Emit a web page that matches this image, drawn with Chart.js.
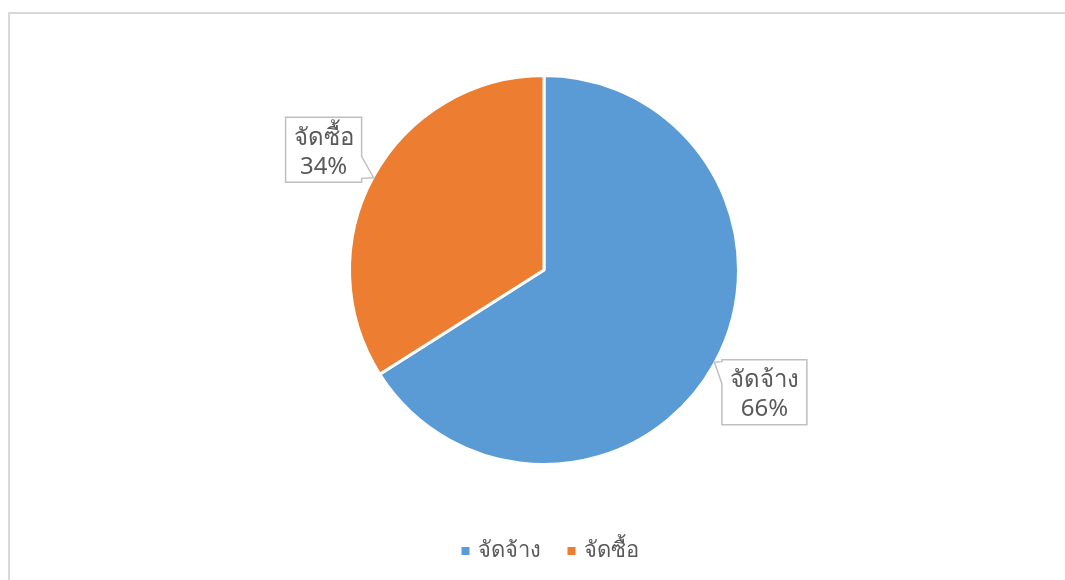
<!DOCTYPE html>
<html>
<head>
<meta charset="utf-8">
<script src="https://cdn.jsdelivr.net/npm/chart.js@4.4.1/dist/chart.umd.min.js"></script>
<style>
  html, body { margin: 0; padding: 0; background: #fff; }
  body { width: 1065px; height: 580px; position: relative; overflow: hidden; }
  #frame { position: absolute; left: 8px; top: 12px; width: 1200px; height: 700px;
           border-left: 2px solid #d9d9d9; border-top: 2px solid #d9d9d9; box-sizing: border-box; }
  #wrap { position: absolute; left: 0; top: 0; width: 1065px; height: 580px; }
</style>
</head>
<body>
<div id="frame"></div>
<div id="wrap"><canvas id="c" width="1065" height="580"></canvas></div>
<script>
const categories = ['จัดจ้าง', 'จัดซื้อ'];
const seriesValues = [66, 34];
const sliceColors = ['#5B9BD5', '#ED7D31'];

const FONT = '"Noto Sans", "DejaVu Sans", sans-serif';
const TEXT_COLOR = '#595959';
const FONT_SIZE = 24;
const LEGEND_FONT_SIZE = 22;

const calloutPlugin = {
  id: 'callouts',
  afterDatasetsDraw(chart) {
    const ctx = chart.ctx;
    const meta = chart.getDatasetMeta(0);
    const data = chart.data.datasets[0].data;
    const total = data.reduce((a, b) => a + b, 0);
    ctx.save();
    ctx.font = FONT_SIZE + 'px ' + FONT;
    meta.data.forEach((arc, i) => {
      const p = arc.getProps(['x', 'y', 'startAngle', 'endAngle', 'outerRadius'], true);
      const mid = (p.startAngle + p.endAngle) / 2;
      const tipX = p.x + Math.cos(mid) * p.outerRadius;
      const tipY = p.y + Math.sin(mid) * (p.outerRadius - 3);
      const dist = p.outerRadius + 57;
      const cx = p.x + Math.cos(mid) * dist;
      const cy = p.y + Math.sin(mid) * dist + 1;
      const line1 = chart.data.labels[i];
      const line2 = Math.round(data[i] / total * 100) + '%';
      const w = Math.max(ctx.measureText(line1).width, ctx.measureText(line2).width) + 16;
      const h = 65;
      const left = cx - w / 2, right = cx + w / 2, top = cy - h / 2, bottom = cy + h / 2;
      let y1 = Math.min(Math.max(tipY - 21, top + 2), bottom - 26);
      let y2 = y1 + 22;
      ctx.beginPath();
      ctx.moveTo(left, top);
      ctx.lineTo(right, top);
      if (tipX > right) {
        ctx.lineTo(right, y1);
        ctx.lineTo(tipX, tipY);
        ctx.lineTo(right, y2);
      }
      ctx.lineTo(right, bottom);
      ctx.lineTo(left, bottom);
      if (tipX < left) {
        ctx.lineTo(left, y2);
        ctx.lineTo(tipX, tipY);
        ctx.lineTo(left, y1);
      }
      ctx.closePath();
      ctx.fillStyle = '#ffffff';
      ctx.fill();
      ctx.strokeStyle = '#bfbfbf';
      ctx.lineWidth = 1.5;
      ctx.stroke();
      ctx.fillStyle = TEXT_COLOR;
      ctx.textAlign = 'center';
      ctx.textBaseline = 'middle';
      ctx.fillText(line1, cx, cy - 12);
      ctx.fillText(line2, cx, cy + 17);
    });
    ctx.restore();
  }
};

const legendPlugin = {
  id: 'bottomLegend',
  afterDraw(chart) {
    const ctx = chart.ctx;
    const colors = chart.data.datasets[0].backgroundColor;
    ctx.save();
    ctx.font = LEGEND_FONT_SIZE + 'px ' + FONT;
    ctx.textBaseline = 'middle';
    ctx.textAlign = 'left';
    const box = 8, gapBox = 8, gapItem = 27;
    const widths = chart.data.labels.map(l => ctx.measureText(l).width);
    const totalW = widths.reduce((a, w) => a + box + gapBox + w, 0) + gapItem * (widths.length - 1);
    const centerX = (chart.chartArea.left + chart.chartArea.right) / 2 + 6;
    let x = centerX - totalW / 2;
    const y = 551;
    chart.data.labels.forEach((l, i) => {
      ctx.fillStyle = colors[i];
      ctx.fillRect(x, y - 4, box, box);
      x += box + gapBox;
      ctx.fillStyle = TEXT_COLOR;
      ctx.fillText(l, x, y);
      x += widths[i] + gapItem;
    });
    ctx.restore();
  }
};

new Chart(document.getElementById('c'), {
  type: 'pie',
  data: {
    labels: categories,
    datasets: [{
      data: seriesValues,
      backgroundColor: sliceColors,
      borderColor: '#ffffff',
      borderWidth: 3
    }]
  },
  options: {
    responsive: false,
    animation: false,
    layout: { padding: { top: 74, bottom: 114, left: 23, right: 0 } },
    plugins: {
      legend: { display: false },
      tooltip: { enabled: false }
    }
  },
  plugins: [calloutPlugin, legendPlugin]
});
</script>
</body>
</html>
